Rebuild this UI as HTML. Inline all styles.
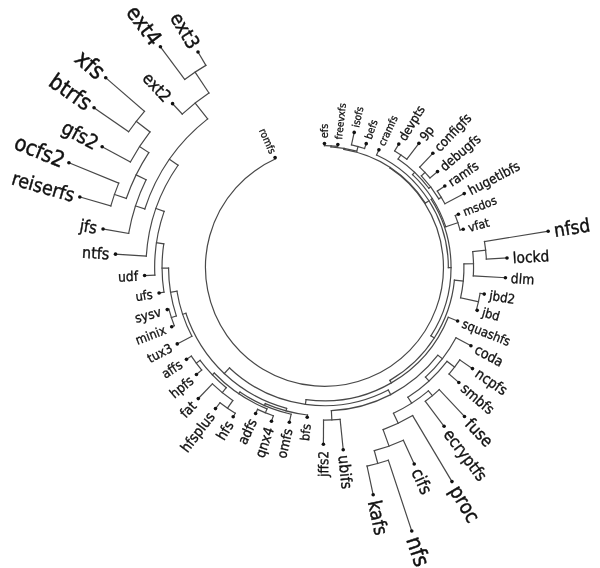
<!DOCTYPE html>
<html><head><meta charset="utf-8"><title>filesystems</title>
<style>html,body{margin:0;padding:0;background:#fff}svg{display:block}
text{font-family:"DejaVu Sans Condensed","DejaVu Sans","Liberation Sans",sans-serif;fill:#111;stroke:#111}</style></head>
<body><svg width="600" height="568" viewBox="0 0 600 568">
<rect width="600" height="568" fill="#fff"/>
<g fill="none" stroke="#484848" stroke-width="1.2" stroke-linecap="square">
<line x1="324.45" y1="145.65" x2="324.45" y2="143.50"/>
<line x1="337.63" y1="146.37" x2="337.84" y2="144.44"/>
<path d="M324.45 145.65A121.70 121.70 0 0 1 337.63 146.37"/>
<line x1="330.99" y1="146.93" x2="331.05" y2="145.83"/>
<line x1="351.46" y1="144.89" x2="354.21" y2="132.42"/>
<line x1="364.56" y1="148.54" x2="366.22" y2="143.64"/>
<path d="M351.46 144.89A125.40 125.40 0 0 1 364.56 148.54"/>
<line x1="356.77" y1="151.16" x2="358.06" y2="146.54"/>
<path d="M330.99 146.93A120.60 120.60 0 0 1 356.77 151.16"/>
<line x1="343.83" y1="149.33" x2="344.00" y2="148.34"/>
<line x1="376.57" y1="154.94" x2="378.93" y2="149.84"/>
<line x1="394.68" y1="150.89" x2="398.79" y2="144.08"/>
<line x1="406.89" y1="159.18" x2="418.93" y2="143.37"/>
<path d="M394.68 150.89A136.00 136.00 0 0 1 406.89 159.18"/>
<line x1="398.09" y1="159.00" x2="400.90" y2="154.87"/>
<line x1="419.70" y1="167.08" x2="432.85" y2="153.24"/>
<line x1="430.00" y1="177.99" x2="437.52" y2="171.62"/>
<path d="M419.70 167.08A138.30 138.30 0 0 1 430.00 177.99"/>
<line x1="421.36" y1="175.83" x2="425.00" y2="172.39"/>
<line x1="437.32" y1="191.12" x2="444.83" y2="186.05"/>
<line x1="444.91" y1="203.80" x2="464.25" y2="193.59"/>
<path d="M437.32 191.12A136.20 136.20 0 0 1 444.91 203.80"/>
<line x1="438.80" y1="198.85" x2="441.29" y2="197.36"/>
<path d="M421.36 175.83A133.30 133.30 0 0 1 438.80 198.85"/>
<line x1="428.87" y1="188.25" x2="430.71" y2="186.86"/>
<path d="M398.09 159.00A131.00 131.00 0 0 1 428.87 188.25"/>
<line x1="412.54" y1="174.62" x2="414.67" y2="172.37"/>
<line x1="455.27" y1="215.56" x2="458.41" y2="214.32"/>
<line x1="460.11" y1="230.04" x2="463.20" y2="229.19"/>
<path d="M455.27 215.56A140.70 140.70 0 0 1 460.11 230.04"/>
<line x1="445.75" y1="226.79" x2="457.89" y2="222.73"/>
<path d="M412.54 174.62A127.90 127.90 0 0 1 445.75 226.79"/>
<line x1="431.25" y1="199.37" x2="432.35" y2="198.67"/>
<line x1="484.48" y1="241.55" x2="548.17" y2="231.28"/>
<line x1="486.34" y1="259.03" x2="507.00" y2="257.97"/>
<path d="M484.48 241.55A162.10 162.10 0 0 1 486.34 259.03"/>
<line x1="472.72" y1="251.63" x2="485.65" y2="250.26"/>
<line x1="473.31" y1="275.87" x2="505.41" y2="277.71"/>
<path d="M472.72 251.63A149.10 149.10 0 0 1 473.31 275.87"/>
<line x1="463.91" y1="263.97" x2="473.51" y2="263.74"/>
<line x1="480.09" y1="293.38" x2="484.24" y2="294.08"/>
<line x1="476.35" y1="310.09" x2="477.20" y2="310.33"/>
<path d="M480.09 293.38A157.80 157.80 0 0 1 476.35 310.09"/>
<line x1="460.59" y1="297.79" x2="478.45" y2="301.79"/>
<path d="M463.91 263.97A139.50 139.50 0 0 1 460.59 297.79"/>
<line x1="454.42" y1="280.12" x2="463.28" y2="280.99"/>
<line x1="448.29" y1="317.22" x2="457.61" y2="320.97"/>
<line x1="456.00" y1="337.74" x2="470.93" y2="345.73"/>
<line x1="459.82" y1="359.93" x2="472.47" y2="368.58"/>
<line x1="448.99" y1="374.05" x2="458.82" y2="382.47"/>
<path d="M459.82 359.93A164.00 164.00 0 0 1 448.99 374.05"/>
<line x1="446.98" y1="361.30" x2="454.60" y2="367.14"/>
<line x1="439.23" y1="389.61" x2="464.49" y2="416.51"/>
<line x1="425.31" y1="401.33" x2="444.12" y2="426.31"/>
<path d="M439.23 389.61A167.70 167.70 0 0 1 425.31 401.33"/>
<line x1="428.38" y1="390.84" x2="432.43" y2="395.66"/>
<line x1="412.66" y1="415.59" x2="451.96" y2="481.62"/>
<line x1="403.35" y1="440.19" x2="414.22" y2="463.99"/>
<line x1="388.32" y1="460.25" x2="411.76" y2="531.05"/>
<line x1="367.05" y1="466.04" x2="373.19" y2="494.69"/>
<path d="M388.32 460.25A203.20 203.20 0 0 1 367.05 466.04"/>
<line x1="374.30" y1="450.69" x2="377.76" y2="463.43"/>
<path d="M403.35 440.19A190.00 190.00 0 0 1 374.30 450.69"/>
<line x1="383.09" y1="429.58" x2="389.04" y2="446.03"/>
<path d="M412.66 415.59A172.50 172.50 0 0 1 383.09 429.58"/>
<line x1="393.46" y1="413.25" x2="398.21" y2="423.29"/>
<path d="M428.38 390.84A161.40 161.40 0 0 1 393.46 413.25"/>
<line x1="407.86" y1="397.28" x2="411.64" y2="403.17"/>
<path d="M446.98 361.30A154.40 154.40 0 0 1 407.86 397.28"/>
<line x1="425.46" y1="377.16" x2="428.98" y2="380.99"/>
<path d="M456.00 337.74A149.20 149.20 0 0 1 425.46 377.16"/>
<line x1="437.88" y1="355.24" x2="442.39" y2="358.74"/>
<line x1="340.11" y1="419.35" x2="343.23" y2="449.68"/>
<line x1="323.55" y1="420.15" x2="323.41" y2="444.20"/>
<path d="M340.11 419.35A152.80 152.80 0 0 1 323.55 420.15"/>
<line x1="331.39" y1="410.68" x2="331.84" y2="419.97"/>
<path d="M437.88 355.24A143.50 143.50 0 0 1 331.39 410.68"/>
<line x1="388.31" y1="390.02" x2="390.71" y2="394.63"/>
<line x1="307.49" y1="414.98" x2="307.22" y2="417.31"/>
<line x1="291.15" y1="414.22" x2="289.33" y2="422.28"/>
<line x1="273.36" y1="415.80" x2="271.47" y2="421.29"/>
<line x1="257.58" y1="409.40" x2="255.62" y2="413.56"/>
<path d="M273.36 415.80A157.00 157.00 0 0 1 257.58 409.40"/>
<line x1="267.00" y1="408.83" x2="265.38" y2="412.81"/>
<line x1="235.28" y1="413.26" x2="233.19" y2="416.69"/>
<line x1="220.00" y1="402.74" x2="215.50" y2="408.59"/>
<path d="M235.28 413.26A171.00 171.00 0 0 1 220.00 402.74"/>
<line x1="232.77" y1="400.55" x2="227.50" y2="408.21"/>
<line x1="212.40" y1="383.93" x2="198.29" y2="398.60"/>
<path d="M232.77 400.55A161.70 161.70 0 0 1 212.40 383.93"/>
<line x1="226.29" y1="387.70" x2="222.25" y2="392.65"/>
<line x1="201.73" y1="370.02" x2="196.46" y2="374.43"/>
<line x1="191.33" y1="356.12" x2="186.47" y2="359.36"/>
<path d="M201.73 370.02A160.00 160.00 0 0 1 191.33 356.12"/>
<line x1="200.11" y1="360.39" x2="196.34" y2="363.21"/>
<path d="M226.29 387.70A155.30 155.30 0 0 1 200.11 360.39"/>
<line x1="214.24" y1="373.04" x2="212.36" y2="374.84"/>
<path d="M267.00 408.83A152.70 152.70 0 0 1 214.24 373.04"/>
<line x1="239.91" y1="391.98" x2="238.73" y2="393.72"/>
<path d="M291.15 414.22A150.60 150.60 0 0 1 239.91 391.98"/>
<line x1="265.29" y1="403.66" x2="264.49" y2="405.50"/>
<path d="M307.49 414.98A148.60 148.60 0 0 1 265.29 403.66"/>
<line x1="286.64" y1="408.37" x2="285.97" y2="410.88"/>
<line x1="191.90" y1="336.29" x2="177.25" y2="343.91"/>
<line x1="174.31" y1="325.76" x2="171.71" y2="326.78"/>
<line x1="168.87" y1="309.16" x2="167.27" y2="309.59"/>
<path d="M174.31 325.76A161.10 161.10 0 0 1 168.87 309.16"/>
<line x1="176.31" y1="315.92" x2="171.37" y2="317.54"/>
<line x1="163.97" y1="292.26" x2="159.07" y2="293.02"/>
<line x1="154.83" y1="275.07" x2="144.60" y2="275.53"/>
<line x1="146.30" y1="256.10" x2="115.51" y2="254.15"/>
<line x1="128.67" y1="233.42" x2="103.05" y2="228.98"/>
<line x1="110.82" y1="205.89" x2="79.81" y2="196.96"/>
<line x1="118.73" y1="183.11" x2="68.92" y2="162.71"/>
<path d="M110.82 205.89A222.30 222.30 0 0 1 118.73 183.11"/>
<line x1="126.27" y1="198.49" x2="114.46" y2="194.39"/>
<line x1="130.39" y1="162.03" x2="102.16" y2="146.71"/>
<line x1="128.63" y1="131.73" x2="94.06" y2="107.78"/>
<line x1="144.47" y1="111.31" x2="105.74" y2="77.73"/>
<path d="M128.63 131.73A238.20 238.20 0 0 1 144.47 111.31"/>
<line x1="150.02" y1="131.97" x2="136.28" y2="121.30"/>
<path d="M130.39 162.03A220.80 220.80 0 0 1 150.02 131.97"/>
<line x1="148.80" y1="152.62" x2="139.59" y2="146.60"/>
<path d="M126.27 198.49A209.80 209.80 0 0 1 148.80 152.62"/>
<line x1="146.10" y1="179.76" x2="136.13" y2="174.87"/>
<path d="M128.67 233.42A198.70 198.70 0 0 1 146.10 179.76"/>
<line x1="144.79" y1="208.99" x2="135.47" y2="205.97"/>
<line x1="182.23" y1="114.07" x2="172.57" y2="103.66"/>
<line x1="184.69" y1="79.42" x2="160.43" y2="46.80"/>
<line x1="205.87" y1="65.39" x2="198.00" y2="52.00"/>
<path d="M184.69 79.42A234.20 234.20 0 0 1 205.87 65.39"/>
<line x1="208.95" y1="93.04" x2="195.09" y2="72.12"/>
<path d="M182.23 114.07A209.10 209.10 0 0 1 208.95 93.04"/>
<line x1="207.65" y1="118.89" x2="195.16" y2="103.01"/>
<path d="M144.79 208.99A188.90 188.90 0 0 1 207.65 118.89"/>
<line x1="178.05" y1="165.22" x2="169.52" y2="159.27"/>
<path d="M146.30 256.10A178.50 178.50 0 0 1 178.05 165.22"/>
<line x1="164.15" y1="211.35" x2="155.94" y2="208.48"/>
<path d="M154.83 275.07A169.80 169.80 0 0 1 164.15 211.35"/>
<line x1="163.76" y1="243.83" x2="156.44" y2="242.76"/>
<path d="M163.97 292.26A162.40 162.40 0 0 1 163.76 243.83"/>
<line x1="168.55" y1="268.03" x2="162.05" y2="268.05"/>
<path d="M176.31 315.92A155.90 155.90 0 0 1 168.55 268.03"/>
<line x1="176.97" y1="291.23" x2="170.56" y2="292.27"/>
<path d="M191.90 336.29A149.40 149.40 0 0 1 176.97 291.23"/>
<line x1="185.87" y1="313.29" x2="182.64" y2="314.36"/>
<path d="M286.64 408.37A146.00 146.00 0 0 1 185.87 313.29"/>
<line x1="229.54" y1="367.94" x2="224.26" y2="373.54"/>
<path d="M388.31 390.02A138.30 138.30 0 0 1 229.54 367.94"/>
<line x1="306.06" y1="399.58" x2="305.40" y2="404.33"/>
<path d="M448.29 317.22A133.50 133.50 0 0 1 306.06 399.58"/>
<line x1="389.90" y1="380.37" x2="391.35" y2="382.88"/>
<path d="M454.42 280.12A130.60 130.60 0 0 1 389.90 380.37"/>
<line x1="430.91" y1="335.87" x2="434.27" y2="338.03"/>
<path d="M431.25 199.37A126.60 126.60 0 0 1 430.91 335.87"/>
<line x1="448.35" y1="267.66" x2="451.05" y2="267.67"/>
<path d="M376.57 154.94A123.90 123.90 0 0 1 448.35 267.66"/>
<line x1="425.33" y1="203.10" x2="428.96" y2="200.80"/>
<path d="M343.83 149.33A119.60 119.60 0 0 1 425.33 203.10"/>
<line x1="389.99" y1="168.02" x2="390.32" y2="167.52"/>
<line x1="275.67" y1="158.81" x2="275.07" y2="157.47"/>
<path d="M389.99 168.02A119.00 119.00 0 1 1 275.67 158.81"/>
</g>
<g fill="#111">
<circle cx="324.45" cy="143.50" r="1.8"/>
<circle cx="337.84" cy="144.44" r="1.8"/>
<circle cx="354.21" cy="132.42" r="1.8"/>
<circle cx="366.22" cy="143.64" r="1.8"/>
<circle cx="378.93" cy="149.84" r="1.8"/>
<circle cx="398.79" cy="144.08" r="1.8"/>
<circle cx="418.93" cy="143.37" r="1.8"/>
<circle cx="432.85" cy="153.24" r="1.8"/>
<circle cx="437.52" cy="171.62" r="1.8"/>
<circle cx="444.83" cy="186.05" r="1.8"/>
<circle cx="464.25" cy="193.59" r="1.8"/>
<circle cx="458.41" cy="214.32" r="1.8"/>
<circle cx="463.20" cy="229.19" r="1.8"/>
<circle cx="548.17" cy="231.28" r="1.8"/>
<circle cx="507.00" cy="257.97" r="1.8"/>
<circle cx="505.41" cy="277.71" r="1.8"/>
<circle cx="484.24" cy="294.08" r="1.8"/>
<circle cx="477.20" cy="310.33" r="1.8"/>
<circle cx="457.61" cy="320.97" r="1.8"/>
<circle cx="470.93" cy="345.73" r="1.8"/>
<circle cx="472.47" cy="368.58" r="1.8"/>
<circle cx="458.82" cy="382.47" r="1.8"/>
<circle cx="464.49" cy="416.51" r="1.8"/>
<circle cx="444.12" cy="426.31" r="1.8"/>
<circle cx="451.96" cy="481.62" r="1.8"/>
<circle cx="414.22" cy="463.99" r="1.8"/>
<circle cx="411.76" cy="531.05" r="1.8"/>
<circle cx="373.19" cy="494.69" r="1.8"/>
<circle cx="343.23" cy="449.68" r="1.8"/>
<circle cx="323.41" cy="444.20" r="1.8"/>
<circle cx="307.22" cy="417.31" r="1.8"/>
<circle cx="289.33" cy="422.28" r="1.8"/>
<circle cx="271.47" cy="421.29" r="1.8"/>
<circle cx="255.62" cy="413.56" r="1.8"/>
<circle cx="233.19" cy="416.69" r="1.8"/>
<circle cx="215.50" cy="408.59" r="1.8"/>
<circle cx="198.29" cy="398.60" r="1.8"/>
<circle cx="196.46" cy="374.43" r="1.8"/>
<circle cx="186.47" cy="359.36" r="1.8"/>
<circle cx="177.25" cy="343.91" r="1.8"/>
<circle cx="171.71" cy="326.78" r="1.8"/>
<circle cx="167.27" cy="309.59" r="1.8"/>
<circle cx="159.07" cy="293.02" r="1.8"/>
<circle cx="144.60" cy="275.53" r="1.8"/>
<circle cx="115.51" cy="254.15" r="1.8"/>
<circle cx="103.05" cy="228.98" r="1.8"/>
<circle cx="79.81" cy="196.96" r="1.8"/>
<circle cx="68.92" cy="162.71" r="1.8"/>
<circle cx="102.16" cy="146.71" r="1.8"/>
<circle cx="94.06" cy="107.78" r="1.8"/>
<circle cx="105.74" cy="77.73" r="1.8"/>
<circle cx="172.57" cy="103.66" r="1.8"/>
<circle cx="160.43" cy="46.80" r="1.8"/>
<circle cx="198.00" cy="52.00" r="1.8"/>
<circle cx="275.07" cy="157.47" r="1.8"/>
</g>
<g>
<text font-size="10.89" stroke-width="0.28" transform="translate(324.45 143.50) rotate(-90.00)" x="5.27" y="3.92">efs</text>
<text font-size="10.00" stroke-width="0.26" transform="translate(337.84 144.44) rotate(-83.78)" x="5.20" y="3.60">freevxfs</text>
<text font-size="10.22" stroke-width="0.27" transform="translate(354.21 132.42) rotate(-77.56)" x="5.22" y="3.68">isofs</text>
<text font-size="10.44" stroke-width="0.27" transform="translate(366.22 143.64) rotate(-71.34)" x="5.24" y="3.76">befs</text>
<text font-size="10.44" stroke-width="0.27" transform="translate(378.93 149.84) rotate(-65.13)" x="5.24" y="3.76">cramfs</text>
<text font-size="12.55" stroke-width="0.30" transform="translate(398.79 144.08) rotate(-58.91)" x="5.41" y="4.52">devpts</text>
<text font-size="12.89" stroke-width="0.31" transform="translate(418.93 143.37) rotate(-52.69)" x="5.43" y="4.64">9p</text>
<text font-size="13.22" stroke-width="0.31" transform="translate(432.85 153.24) rotate(-46.47)" x="5.46" y="4.76">configfs</text>
<text font-size="13.33" stroke-width="0.31" transform="translate(437.52 171.62) rotate(-40.25)" x="5.47" y="4.80">debugfs</text>
<text font-size="13.00" stroke-width="0.31" transform="translate(444.83 186.05) rotate(-34.03)" x="5.44" y="4.68">ramfs</text>
<text font-size="13.33" stroke-width="0.31" transform="translate(464.25 193.59) rotate(-27.82)" x="5.47" y="4.80">hugetlbfs</text>
<text font-size="12.00" stroke-width="0.29" transform="translate(458.41 214.32) rotate(-21.60)" x="5.36" y="4.32">msdos</text>
<text font-size="12.22" stroke-width="0.30" transform="translate(463.20 229.19) rotate(-15.38)" x="5.38" y="4.40">vfat</text>
<text font-size="18.89" stroke-width="0.39" transform="translate(548.17 231.28) rotate(-9.16)" x="5.91" y="6.80">nfsd</text>
<text font-size="15.33" stroke-width="0.34" transform="translate(507.00 257.97) rotate(-2.94)" x="5.63" y="5.52">lockd</text>
<text font-size="13.78" stroke-width="0.32" transform="translate(505.41 277.71) rotate(3.28)" x="5.50" y="4.96">dlm</text>
<text font-size="13.11" stroke-width="0.31" transform="translate(484.24 294.08) rotate(9.50)" x="5.45" y="4.72">jbd2</text>
<text font-size="12.78" stroke-width="0.30" transform="translate(477.20 310.33) rotate(15.71)" x="5.42" y="4.60">jbd</text>
<text font-size="12.78" stroke-width="0.30" transform="translate(457.61 320.97) rotate(21.93)" x="5.42" y="4.60">squashfs</text>
<text font-size="14.00" stroke-width="0.32" transform="translate(470.93 345.73) rotate(28.15)" x="5.52" y="5.04">coda</text>
<text font-size="14.44" stroke-width="0.33" transform="translate(472.47 368.58) rotate(34.37)" x="5.56" y="5.20">ncpfs</text>
<text font-size="14.33" stroke-width="0.33" transform="translate(458.82 382.47) rotate(40.59)" x="5.55" y="5.16">smbfs</text>
<text font-size="16.66" stroke-width="0.36" transform="translate(464.49 416.51) rotate(46.81)" x="5.74" y="6.00">fuse</text>
<text font-size="16.44" stroke-width="0.36" transform="translate(444.12 426.31) rotate(53.03)" x="5.72" y="5.92">ecryptfs</text>
<text font-size="20.00" stroke-width="0.41" transform="translate(451.96 481.62) rotate(59.24)" x="6.00" y="7.20">proc</text>
<text font-size="17.22" stroke-width="0.37" transform="translate(414.22 463.99) rotate(65.46)" x="5.78" y="6.20">cifs</text>
<text font-size="22.22" stroke-width="0.44" transform="translate(411.76 531.05) rotate(71.68)" x="6.18" y="8.00">nfs</text>
<text font-size="19.11" stroke-width="0.40" transform="translate(373.19 494.69) rotate(77.90)" x="5.93" y="6.88">kafs</text>
<text font-size="15.55" stroke-width="0.34" transform="translate(343.23 449.68) rotate(84.12)" x="5.65" y="5.60">ubifs</text>
<text font-size="13.67" stroke-width="0.32" text-anchor="end" transform="translate(323.41 444.20) rotate(270.34)" x="-6.61" y="4.92">jffs2</text>
<text font-size="12.44" stroke-width="0.30" text-anchor="end" transform="translate(307.22 417.31) rotate(276.55)" x="-6.80" y="4.48">bfs</text>
<text font-size="13.55" stroke-width="0.32" text-anchor="end" transform="translate(289.33 422.28) rotate(282.77)" x="-6.62" y="4.88">omfs</text>
<text font-size="14.00" stroke-width="0.32" text-anchor="end" transform="translate(271.47 421.29) rotate(288.99)" x="-6.55" y="5.04">qnx4</text>
<text font-size="13.89" stroke-width="0.32" text-anchor="end" transform="translate(255.62 413.56) rotate(295.21)" x="-6.57" y="5.00">adfs</text>
<text font-size="14.22" stroke-width="0.32" text-anchor="end" transform="translate(233.19 416.69) rotate(301.43)" x="-6.52" y="5.12">hfs</text>
<text font-size="14.33" stroke-width="0.33" text-anchor="end" transform="translate(215.50 408.59) rotate(307.65)" x="-6.50" y="5.16">hfsplus</text>
<text font-size="13.67" stroke-width="0.32" text-anchor="end" transform="translate(198.29 398.60) rotate(313.87)" x="-6.61" y="4.92">fat</text>
<text font-size="13.44" stroke-width="0.31" text-anchor="end" transform="translate(196.46 374.43) rotate(320.08)" x="-6.64" y="4.84">hpfs</text>
<text font-size="13.22" stroke-width="0.31" text-anchor="end" transform="translate(186.47 359.36) rotate(326.30)" x="-6.68" y="4.76">affs</text>
<text font-size="12.89" stroke-width="0.31" text-anchor="end" transform="translate(177.25 343.91) rotate(332.52)" x="-6.73" y="4.64">tux3</text>
<text font-size="12.78" stroke-width="0.30" text-anchor="end" transform="translate(171.71 326.78) rotate(338.74)" x="-6.75" y="4.60">minix</text>
<text font-size="13.33" stroke-width="0.31" text-anchor="end" transform="translate(167.27 309.59) rotate(344.96)" x="-6.66" y="4.80">sysv</text>
<text font-size="12.67" stroke-width="0.30" text-anchor="end" transform="translate(159.07 293.02) rotate(351.18)" x="-6.77" y="4.56">ufs</text>
<text font-size="13.67" stroke-width="0.32" text-anchor="end" transform="translate(144.60 275.53) rotate(357.40)" x="-6.61" y="4.92">udf</text>
<text font-size="15.89" stroke-width="0.35" text-anchor="end" transform="translate(115.51 254.15) rotate(363.61)" x="-6.25" y="5.72">ntfs</text>
<text font-size="16.66" stroke-width="0.36" text-anchor="end" transform="translate(103.05 228.98) rotate(369.83)" x="-6.12" y="6.00">jfs</text>
<text font-size="19.33" stroke-width="0.40" text-anchor="end" transform="translate(79.81 196.96) rotate(376.05)" x="-5.69" y="6.96">reiserfs</text>
<text font-size="21.78" stroke-width="0.43" text-anchor="end" transform="translate(68.92 162.71) rotate(382.27)" x="-5.29" y="7.84">ocfs2</text>
<text font-size="20.00" stroke-width="0.41" text-anchor="end" transform="translate(102.16 146.71) rotate(388.49)" x="-5.58" y="7.20">gfs2</text>
<text font-size="22.22" stroke-width="0.44" text-anchor="end" transform="translate(94.06 107.78) rotate(394.71)" x="-5.22" y="8.00">btrfs</text>
<text font-size="23.33" stroke-width="0.46" text-anchor="end" transform="translate(105.74 77.73) rotate(400.93)" x="-5.04" y="8.40">xfs</text>
<text font-size="16.66" stroke-width="0.36" text-anchor="end" transform="translate(172.57 103.66) rotate(407.14)" x="-6.12" y="6.00">ext2</text>
<text font-size="21.66" stroke-width="0.43" text-anchor="end" transform="translate(160.43 46.80) rotate(413.36)" x="-5.31" y="7.80">ext4</text>
<text font-size="19.33" stroke-width="0.40" text-anchor="end" transform="translate(198.00 52.00) rotate(419.58)" x="-5.69" y="6.96">ext3</text>
<text font-size="10.33" stroke-width="0.27" text-anchor="end" transform="translate(275.07 157.47) rotate(425.80)" x="-4.85" y="3.72">romfs</text>
</g>
</svg></body></html>
